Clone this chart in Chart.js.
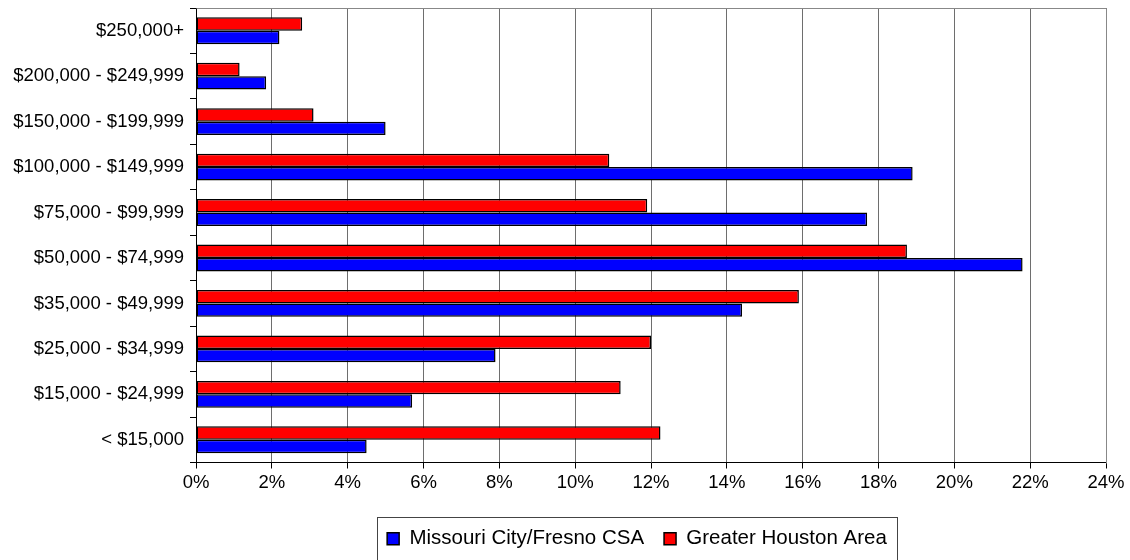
<!DOCTYPE html>
<html>
<head>
<meta charset="utf-8">
<script src="https://cdn.jsdelivr.net/npm/chart.js@4"></script>
<style>
	body { margin: 0; background: #fff; }
</style>
</head>
<body>
<canvas id="incomeC" width="1130" height="560"></canvas>
<script>
// income brackets, top to bottom
const categories = ['$250,000+', '$200,000 - $249,999', '$150,000 - $199,999', '$100,000 - $149,999', '$75,000 - $99,999', '$50,000 - $74,999', '$35,000 - $49,999', '$25,000 - $34,999', '$15,000 - $24,999', '< $15,000'];
// percent of households
const missouriCity = [2.2, 1.85, 5.0, 18.9, 17.7, 21.8, 14.4, 7.9, 5.7, 4.5];
const houstonArea = [2.8, 1.15, 3.1, 10.9, 11.9, 18.75, 15.9, 12.0, 11.2, 12.25];
const xTicks = [0, 2, 4, 6, 8, 10, 12, 14, 16, 18, 20, 22, 24];

Chart.defaults.font.family = "'Liberation Sans', Arial, sans-serif";
Chart.defaults.color = '#000';

// the legend sits a bit right of the canvas centre
const legendCenterX = 637;

// grey frame on top / right of plot + box round the legend
const framePlugin = {
	id: 'frame',
	afterLayout(chart) {
		// legend hitboxes get rebuilt in the legend's own afterUpdate
		const lg = chart.legend;
		if (!lg) return;
		const shift = legendCenterX - (lg.left + lg.right) / 2;
		lg.left += shift;
		lg.right += shift;
	},
	beforeDatasetsDraw(chart) {
		const a = chart.chartArea, ctx = chart.ctx;
		ctx.save();
		ctx.strokeStyle = '#888';
		ctx.lineWidth = 1;
		ctx.beginPath();
		ctx.moveTo(Math.round(a.left) + 0.5, Math.round(a.top) + 0.5);
		ctx.lineTo(Math.round(a.right) + 0.5, Math.round(a.top) + 0.5);
		ctx.lineTo(Math.round(a.right) + 0.5, Math.round(a.bottom) + 0.5);
		ctx.stroke();
		ctx.restore();
	},
	afterDraw(chart) {
		const boxes = chart.legend.legendHitBoxes;
		if (!boxes || !boxes.length) return;
		const first = boxes[0], last = boxes[boxes.length - 1];
		const ctx = chart.ctx;
		const l = Math.round(first.left - 10) + 0.5;
		const t = Math.round(first.top - 12) + 0.5;
		const r = Math.round(last.left + last.width + 10) + 0.5;
		ctx.save();
		ctx.strokeStyle = '#444';
		ctx.lineWidth = 1;
		ctx.strokeRect(l, t, r - l, 60);
		ctx.restore();
	}
};

var incomeChart = new Chart(document.getElementById('incomeC'), {
	type: 'bar',
	data: {
		labels: categories,
		datasets: [{
			label: 'Greater Houston Area',
			data: houstonArea,
			backgroundColor: '#ff0000',
			borderColor: '#000',
			borderWidth: 1.5,
			borderSkipped: false
		}, {
			label: 'Missouri City/Fresno CSA',
			data: missouriCity,
			backgroundColor: '#0000ff',
			borderColor: '#000',
			borderWidth: 1.5,
			borderSkipped: false
		}]
	},
	options: {
		indexAxis: 'y',
		responsive: false,
		animation: false,
		categoryPercentage: 0.59,
		barPercentage: 1.0,
		layout: {
			padding: { left: 0, right: 24, top: 8, bottom: 1 }
		},
		plugins: {
			legend: {
				position: 'bottom',
				reverse: true,
				labels: {
					boxWidth: 12,
					boxHeight: 12,
					padding: 20,
					font: { size: 20.5 }
				}
			},
			tooltip: { enabled: false }
		},
		scales: {
			x: {
				min: 0,
				max: 24,
				afterBuildTicks: (axis) => {
					axis.ticks = xTicks.map(v => ({ value: v }));
				},
				afterFit: (axis) => { axis.height = 46; },
				ticks: {
					callback: (v) => v + '%',
					font: { size: 18.5 },
					padding: 3,
					maxRotation: 0
				},
				grid: {
					color: '#6e6e6e',
					tickColor: '#000',
					tickLength: 6
				},
				border: { color: '#000', width: 1 }
			},
			y: {
				afterFit: (axis) => {
					axis.width = 196;
					axis.paddingTop = 0;
					axis.paddingBottom = 0;
				},
				ticks: {
					font: { size: 18.5 },
					padding: 6
				},
				grid: {
					drawOnChartArea: false,
					tickColor: '#000',
					tickLength: 6,
					offset: true
				},
				border: { color: '#000', width: 1 }
			}
		}
	},
	plugins: [framePlugin]
});
</script>
</body>
</html>
